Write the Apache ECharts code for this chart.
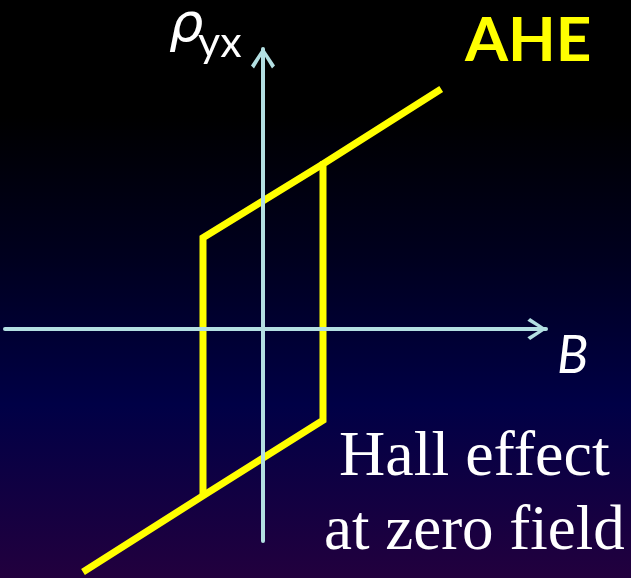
<!DOCTYPE html>
<html>
<head>
<meta charset="utf-8">
<title>AHE</title>
<script src="https://cdn.jsdelivr.net/npm/echarts@6/dist/echarts.min.js"></script>
<style>
  html, body { margin: 0; padding: 0; background: #000; }
  #chart { width: 631px; height: 578px; }
</style>
</head>
<body>
<div id="chart"></div>
<script>
// hysteresis loop, sweep up (lower branch + jump at +Hc)
const fieldUp = [-3.0, -1.0, 1.0, 1.0, 2.97];
const rhoUp = [-4.05, -2.78, -1.52, 2.75, 4.0];
// sweep down (upper branch + jump at -Hc)
const fieldDown = [1.0, -1.0, -1.0];
const rhoDown = [2.75, 1.52, -2.78];

// labels
const xName = 'B';
const yName = 'ρ';
const ySub = 'yx';
const tagText = 'AHE';
const noteLines = ['Hall effect', 'at zero field'];

function pairs(xs, ys) {
  return xs.map(function (x, i) { return [x, ys[i]]; });
}

const axisColor = '#b3dfe2';
const loopColor = '#ffff00';
// open chevron arrow head (pointing up, echarts rotates it along the axis)
const chevron = 'path://M12,0 L24,18 L21,21 L12,6 L3,21 L0,18 Z';

const myChart = echarts.init(document.getElementById('chart'));

const option = {
  animation: false,
  backgroundColor: {
    type: 'linear', x: 0, y: 0, x2: 0, y2: 1,
    colorStops: [
      { offset: 0, color: '#000000' },
      { offset: 0.2, color: '#000000' },
      { offset: 0.45, color: '#00001f' },
      { offset: 0.7, color: '#000046' },
      { offset: 1, color: '#22003e' }
    ]
  },
  grid: { left: 5, right: 85, top: 49, bottom: 37, containLabel: false },
  xAxis: {
    type: 'value',
    min: -4.3,
    max: 4.7167,
    z: 5,
    axisLine: {
      show: true,
      onZero: true,
      symbol: ['none', chevron],
      symbolSize: [22, 21],
      symbolOffset: [0, -9],
      lineStyle: { color: axisColor, width: 4 }
    },
    axisTick: { show: false },
    axisLabel: { show: false },
    splitLine: { show: false }
  },
  yAxis: {
    type: 'value',
    min: -3.5333,
    max: 4.6667,
    z: 5,
    axisLine: {
      show: true,
      onZero: true,
      symbol: ['none', chevron],
      symbolSize: [24, 21],
      symbolOffset: [0, -9],
      lineStyle: { color: axisColor, width: 4 }
    },
    axisTick: { show: false },
    axisLabel: { show: false },
    splitLine: { show: false }
  },
  series: [
    {
      name: 'sweep up',
      type: 'line',
      data: pairs(fieldUp, rhoUp),
      symbol: 'none',
      clip: false,
      z: 2,
      lineStyle: { color: loopColor, width: 7, join: 'miter', cap: 'butt' }
    },
    {
      name: 'sweep down',
      type: 'line',
      data: pairs(fieldDown, rhoDown),
      symbol: 'none',
      clip: false,
      z: 2,
      lineStyle: { color: loopColor, width: 7, join: 'miter', cap: 'butt' }
    }
  ],
  graphic: [
    {
      type: 'text', left: 169, top: 0, z: 10,
      style: { text: yName, fill: '#ffffff', font: 'italic 54px "DejaVu Sans"' }
    },
    {
      type: 'text', left: 198, top: 22, z: 10,
      style: { text: ySub, fill: '#ffffff', font: '43px Lato' }
    },
    {
      type: 'text', left: 557, top: 330, z: 10,
      style: { text: xName, fill: '#ffffff', font: 'italic 52px Lato' }
    },
    {
      type: 'text', left: 465, top: 10, z: 10,
      style: { text: tagText, fill: loopColor, font: 'bold 62px Lato' }
    },
    {
      type: 'text', left: 339, top: 426, z: 10,
      style: { text: noteLines[0], fill: '#ffffff', font: '64px "Liberation Serif"' }
    },
    {
      type: 'text', left: 324, top: 501, z: 10,
      style: { text: noteLines[1], fill: '#ffffff', font: '63px "Liberation Serif"' }
    }
  ]
};

myChart.setOption(option);
</script>
</body>
</html>
